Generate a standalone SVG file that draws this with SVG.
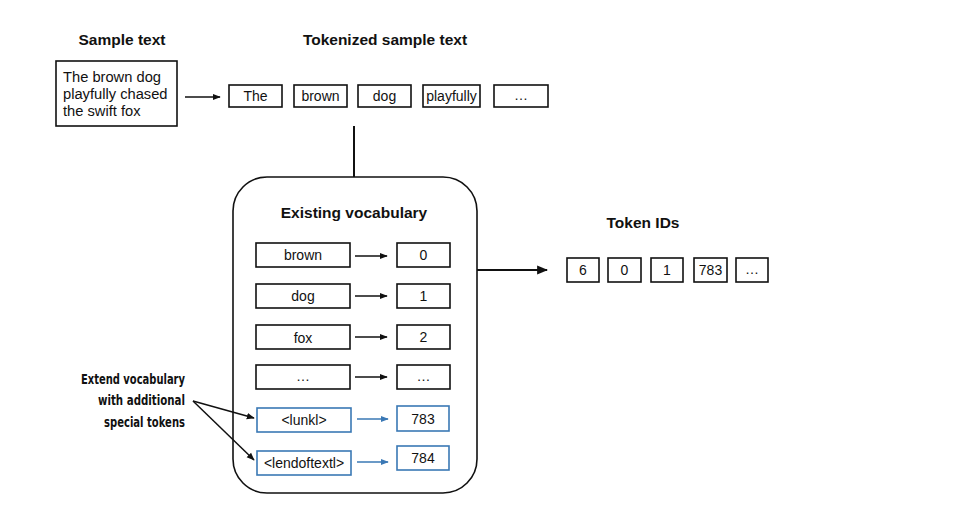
<svg xmlns="http://www.w3.org/2000/svg" width="974" height="528" viewBox="0 0 974 528">
<defs>
<style>
.t{font-family:"Liberation Sans",Arial,sans-serif;font-size:14px;fill:#111;text-anchor:middle}
.s{font-family:"Liberation Sans",Arial,sans-serif;font-size:14.7px;fill:#111}
.h{font-family:"Liberation Sans",Arial,sans-serif;font-size:15.5px;font-weight:bold;fill:#111;text-anchor:middle}
.n{font-family:"DejaVu Sans Condensed","Liberation Sans Narrow",sans-serif;font-size:14px;font-weight:bold;fill:#111;text-anchor:end}
.b{fill:#fff;stroke:#111;stroke-width:1.6}
.bb{fill:#fff;stroke:#3a78b5;stroke-width:1.6}
.c{fill:none;stroke:#111;stroke-width:1.5}
.cb{fill:none;stroke:#3a78b5;stroke-width:1.5}
</style>
<marker id="ah" viewBox="0 0 10 10" refX="9" refY="5" markerWidth="8" markerHeight="8" markerUnits="userSpaceOnUse" orient="auto"><path d="M0,1 L10,5 L0,9 z" fill="#111"/></marker>
<marker id="ahb" viewBox="0 0 10 10" refX="9" refY="5" markerWidth="8" markerHeight="8" markerUnits="userSpaceOnUse" orient="auto"><path d="M0,1 L10,5 L0,9 z" fill="#3a78b5"/></marker>
<marker id="ahL" viewBox="0 0 10 10" refX="9" refY="5" markerWidth="11" markerHeight="11" markerUnits="userSpaceOnUse" orient="auto"><path d="M0,1 L10,5 L0,9 z" fill="#111"/></marker>
</defs>
<rect width="974" height="528" fill="#fff"/>

<g id="titles">
<text class="h" x="122" y="45">Sample text</text>
<text class="h" x="385" y="45">Tokenized sample text</text>
<text class="h" x="643" y="228">Token IDs</text>
</g>

<g id="sample">
<rect class="b" x="56" y="61" width="121" height="65"/>
<text class="s" x="63" y="82">The brown dog</text>
<text class="s" x="63" y="99">playfully chased</text>
<text class="s" x="63" y="116">the swift fox</text>
</g>

<g id="tokens">
<rect class="b" x="229" y="85" width="53" height="22"/><text class="t" x="255.5" y="101">The</text>
<rect class="b" x="294" y="85" width="53" height="22"/><text class="t" x="320.5" y="101">brown</text>
<rect class="b" x="358" y="85" width="53" height="22"/><text class="t" x="384.5" y="101">dog</text>
<rect class="b" x="423" y="85" width="57" height="22"/><text class="t" x="451.5" y="101">playfully</text>
<rect class="b" x="494" y="85" width="54" height="22"/><text class="t" x="521" y="100">…</text>
</g>

<g id="vocabulary">
<rect class="b" x="233" y="177" width="244" height="316" rx="34" ry="34"/>
<text class="h" x="354" y="218">Existing vocabulary</text>
<rect class="b" x="256" y="243" width="94" height="24"/><text class="t" x="303" y="260">brown</text>
<rect class="b" x="397" y="243" width="53" height="24"/><text class="t" x="423.5" y="260">0</text>
<rect class="b" x="256" y="284" width="94" height="24"/><text class="t" x="303" y="301">dog</text>
<rect class="b" x="397" y="284" width="53" height="24"/><text class="t" x="423.5" y="301">1</text>
<rect class="b" x="256" y="325" width="94" height="24"/><text class="t" x="303" y="343">fox</text>
<rect class="b" x="397" y="325" width="53" height="24"/><text class="t" x="423.5" y="342">2</text>
<rect class="b" x="256" y="365" width="94" height="24"/><text class="t" x="303" y="381">…</text>
<rect class="b" x="397" y="365" width="53" height="24"/><text class="t" x="423.5" y="381">…</text>
<rect class="bb" x="257" y="408" width="94" height="24"/><text class="t" x="304" y="425">&lt;lunkl&gt;</text>
<rect class="bb" x="397" y="406" width="52" height="25"/><text class="t" x="423" y="424">783</text>
<rect class="bb" x="257" y="451" width="94" height="24"/><text class="t" x="304" y="468">&lt;lendoftextl&gt;</text>
<rect class="bb" x="397" y="446" width="52" height="24"/><text class="t" x="423" y="463">784</text>
</g>

<g id="token-ids">
<rect class="b" x="567" y="258" width="32" height="24"/><text class="t" x="583" y="275">6</text>
<rect class="b" x="608" y="258" width="33" height="24"/><text class="t" x="624.5" y="275">0</text>
<rect class="b" x="651" y="258" width="32" height="24"/><text class="t" x="667" y="275">1</text>
<rect class="b" x="694" y="258" width="33" height="24"/><text class="t" x="710.5" y="275">783</text>
<rect class="b" x="736" y="258" width="32" height="24"/><text class="t" x="752" y="274">…</text>
</g>

<g id="annotation">
<text class="n" x="185" y="384" textLength="104" lengthAdjust="spacingAndGlyphs">Extend vocabulary</text>
<text class="n" x="185" y="405" textLength="87" lengthAdjust="spacingAndGlyphs">with additional</text>
<text class="n" x="185" y="427" textLength="81" lengthAdjust="spacingAndGlyphs">special tokens</text>
</g>

<g id="connectors">
<line class="c" x1="185" y1="97" x2="220" y2="97" marker-end="url(#ah)"/>
<line class="c" x1="354" y1="126" x2="354" y2="177" style="stroke-width:2"/>
<line class="c" x1="477" y1="270" x2="547" y2="270" marker-end="url(#ahL)" style="stroke-width:2"/>
<line class="c" x1="355" y1="256" x2="387" y2="256" marker-end="url(#ah)"/>
<line class="c" x1="355" y1="296" x2="387" y2="296" marker-end="url(#ah)"/>
<line class="c" x1="355" y1="337" x2="387" y2="337" marker-end="url(#ah)"/>
<line class="c" x1="355" y1="377" x2="387" y2="377" marker-end="url(#ah)"/>
<line class="cb" x1="357" y1="419" x2="388" y2="419" marker-end="url(#ahb)"/>
<line class="cb" x1="357" y1="462" x2="388" y2="462" marker-end="url(#ahb)"/>
<line class="c" x1="193" y1="401" x2="254" y2="418" marker-end="url(#ah)"/>
<line class="c" x1="193" y1="401" x2="254" y2="460" marker-end="url(#ah)"/>
</g>
</svg>
